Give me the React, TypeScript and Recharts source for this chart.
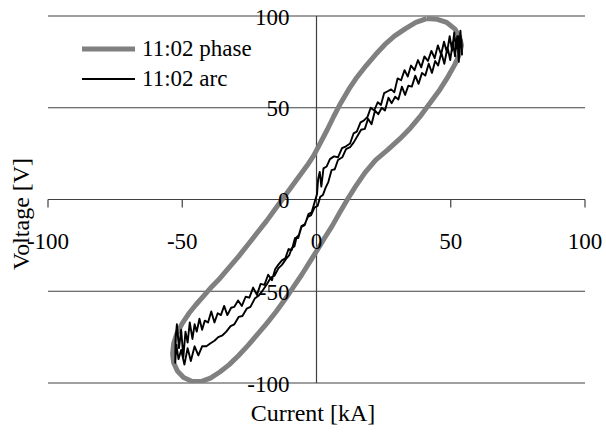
import {
  ScatterChart,
  Scatter,
  XAxis,
  YAxis,
  CartesianGrid,
  ReferenceLine,
  Legend,
  Label,
} from "recharts"

const FONT = "Liberation Serif, Times New Roman, DejaVu Serif, serif"
const GRID = "#404040"

const currentTicks = [-100, -50, 0, 50, 100]
const voltageTicks = [-100, -50, 0, 50, 100]

// 11:02 phase: [current kA, voltage V], one closed cycle
const phaseLoop: [number, number][] = [
  [41, 98.6], [45, 98.2], [48.5, 96.5], [51.5, 93], [53.3, 88.5], [54, 84],
  [53.2, 79], [51.5, 73.5], [49, 67], [46, 60], [42.5, 53], [39, 46],
  [35, 39], [31, 33], [26.5, 27], [22, 21.5], [18, 14.5], [14.5, 7],
  [11.5, 0], [8.5, -7.5], [5.8, -14.5], [3, -21], [0.3, -27.5], [-2.5, -34],
  [-5.5, -41], [-8.5, -47.5], [-11.5, -54], [-15, -61], [-18.5, -67.5], [-22, -73.5],
  [-25.5, -79.5], [-29, -85], [-32.5, -90], [-36, -94], [-39.5, -97.3], [-43, -99.2],
  [-46.5, -99], [-49.5, -97], [-51.8, -93.5], [-53.2, -89], [-53.6, -84], [-53.2, -78.5],
  [-52, -73], [-50, -67.5], [-47.5, -62], [-45, -57.5], [-42, -52.5], [-39, -47.5],
  [-36, -43], [-32.5, -37], [-29, -31], [-25.5, -24.5], [-22, -18], [-18.5, -11.5],
  [-15.5, -5.5], [-12.5, 0.5], [-9.5, 6.5], [-6.5, 12.5], [-3.5, 18.5], [-1, 24],
  [1.5, 31], [4, 38], [6.5, 45.5], [9, 52.5], [12, 60], [15, 66.5],
  [18.5, 73], [22, 79], [25.5, 84.5], [29, 89], [33, 93], [37, 96.5], [41, 98.6],
]

// 11:02 arc: [current kA, voltage V], rising branch then falling branch
const arcLoop: [number, number][] = [
  [-52.5, -76], [-52, -68], [-51.2, -81], [-50.4, -71], [-49.6, -86], [-48.8, -72],
  [-48, -78], [-47.2, -67], [-46.2, -76], [-45.4, -68], [-44.6, -72], [-43.6, -65],
  [-42.6, -71], [-41.6, -66], [-40.4, -67], [-39.2, -61], [-38, -67], [-36.8, -62],
  [-35.6, -63], [-34.4, -58], [-33.2, -63], [-31.8, -59], [-30.6, -58.5], [-29.2, -55],
  [-27.8, -58], [-26.4, -53], [-25, -53.5], [-23.6, -48], [-22.2, -52], [-20.8, -46],
  [-19.4, -46.5], [-18, -41], [-16.6, -44], [-15.4, -38], [-14.2, -35.5], [-12.8, -33],
  [-11.6, -32], [-10.4, -27], [-9.2, -27.5], [-8, -21], [-6.8, -21], [-5.6, -15],
  [-4.4, -14], [-3, -8], [-1.8, -7], [-0.6, -1], [0.2, 3], [0.6, 11],
  [1.2, 15], [1.8, 7], [2.6, 17], [3.8, 18], [5, 22], [6.5, 23.5],
  [8, 23], [9.5, 28], [11, 29], [12.5, 30.5], [13.8, 36], [15, 37],
  [16.4, 42], [17.6, 43], [19, 45], [20.2, 50], [21.5, 48.5], [22.8, 53],
  [24, 51.5], [25.2, 58], [26.5, 59], [27.8, 60], [29, 58.5], [30.2, 66],
  [31.5, 65], [32.8, 70.5], [34, 67], [35.2, 73], [36.5, 70.5], [37.8, 76],
  [39, 72], [40.2, 78], [41.5, 75.5], [42.8, 81], [44, 77], [45.2, 84],
  [46.4, 79], [47.5, 86], [48.6, 80], [49.6, 89], [50.5, 81], [51.3, 91],
  [52, 82], [52.8, 89], [53.4, 83], [54, 87],
  [54.2, 79], [53.6, 92], [53, 75], [52.4, 89], [51.6, 78], [50.8, 86],
  [49.8, 76], [48.8, 83], [47.6, 74], [46.5, 80], [45.3, 73], [44.2, 75.5],
  [43, 69], [41.8, 74], [40.5, 67.5], [39.3, 69], [38, 63], [36.8, 67.5],
  [35.5, 61.5], [34.2, 62], [33, 57], [31.8, 61.5], [30.5, 54.5], [29.3, 56],
  [28, 52.5], [26.8, 55.5], [25.5, 48.5], [24.3, 50], [23, 46.5], [21.8, 48.5],
  [20.5, 41], [19.2, 44], [18, 38.5], [16.6, 38], [15.2, 34.5], [13.8, 31],
  [12.5, 28.5], [11, 27.5], [9.6, 23], [8, 21.5], [6.8, 16.5], [5.6, 16],
  [4.4, 9.5], [3.4, 6.5], [2.4, 2.5], [1.4, 1.5], [0.4, -3.5], [-0.8, -4.5],
  [-2, -8.5], [-3.2, -9.5], [-4.4, -13.5], [-5.6, -14.5], [-6.6, -19.5], [-7.4, -20.5],
  [-8.2, -25.5], [-9.2, -26.5], [-10.2, -30.5], [-11.4, -32.5], [-12.8, -35.5], [-14.2, -37.5],
  [-15.6, -41.5], [-17, -42.5], [-18.6, -46.5], [-20, -49.5], [-21.6, -52.5], [-23, -54],
  [-24.6, -58.5], [-26, -59.5], [-27.6, -63.5], [-29, -64], [-30.6, -68], [-32, -69],
  [-33.6, -72], [-35, -74], [-36.6, -75], [-38, -77], [-39.6, -78.5], [-41, -80],
  [-42.6, -80], [-44, -85], [-45.4, -80], [-46.8, -88], [-48, -81], [-49.2, -90],
  [-50.4, -82], [-51.4, -87], [-52.2, -79], [-52.6, -89], [-52.5, -76],
]

const series = [
  { name: "11:02 phase", points: phaseLoop, color: "#808080", width: 5 },
  { name: "11:02 arc", points: arcLoop, color: "#000000", width: 1.9 },
]

const WIDTH = 606
const HEIGHT = 432
const X_AXIS_H = 30
const Y_AXIS_W = 30
const MARGIN = { top: 16, right: 21, bottom: 49 - X_AXIS_H, left: 48 - Y_AXIS_W }
// axes cross at the origin, in the middle of the plot
const PLOT_LEFT = MARGIN.left + Y_AXIS_W
const PLOT_BOTTOM = HEIGHT - MARGIN.bottom - X_AXIS_H
const ZERO_X = PLOT_LEFT + (WIDTH - PLOT_LEFT - MARGIN.right) / 2
const ZERO_Y = MARGIN.top + (PLOT_BOTTOM - MARGIN.top) / 2

const textStyle = { fontFamily: FONT, fill: "#000" }

function CurrentTick({ x, payload }: any) {
  return (
    <g>
      {payload.value !== 0 && (
        <line x1={x} x2={x} y1={ZERO_Y} y2={ZERO_Y + 8} stroke={GRID} strokeWidth={1.2} />
      )}
      <text x={x} y={ZERO_Y + 49} textAnchor="middle" fontSize={23} style={textStyle}>
        {payload.value}
      </text>
    </g>
  )
}

function VoltageTick({ y, payload }: any) {
  return (
    <text x={ZERO_X - 27} y={y + 8.5} textAnchor="end" fontSize={23} style={textStyle}>
      {payload.value}
    </text>
  )
}

function VoltageTitle() {
  return (
    <text
      transform="translate(21 214) rotate(-90)"
      textAnchor="middle"
      dominantBaseline="central"
      fontSize={24}
      style={textStyle}
    >
      Voltage [V]
    </text>
  )
}

function CurrentTitle() {
  return (
    <text x={313} y={421} textAnchor="middle" fontSize={24} style={textStyle}>
      Current [kA]
    </text>
  )
}

function renderLegend() {
  return (
    <div style={{ fontFamily: FONT, fontSize: 23, color: "#000" }}>
      {series.map((s) => (
        <div key={s.name} style={{ display: "flex", alignItems: "center", height: 30, whiteSpace: "nowrap" }}>
          <svg width={53} height={10}>
            <line x1={0} x2={53} y1={5} y2={5} stroke={s.color} strokeWidth={s.width} strokeLinecap="round" />
          </svg>
          <span style={{ marginLeft: 7 }}>{s.name}</span>
        </div>
      ))}
    </div>
  )
}

const noDot = () => <g />

export default function App() {
  return (
    <div style={{ position: "absolute", left: 0, top: 0, background: "#fff" }}>
      <ScatterChart width={WIDTH} height={HEIGHT} margin={MARGIN}>
        <CartesianGrid vertical={false} stroke={GRID} strokeWidth={1.2} />
        <XAxis
          type="number"
          dataKey="x"
          domain={[-100, 100]}
          ticks={currentTicks}
          interval={0}
          height={X_AXIS_H}
          axisLine={false}
          tickLine={false}
          tick={<CurrentTick />}
          allowDataOverflow
        >
          <Label content={<CurrentTitle />} />
        </XAxis>
        <YAxis
          type="number"
          dataKey="y"
          domain={[-100, 100]}
          ticks={voltageTicks}
          interval={0}
          width={Y_AXIS_W}
          axisLine={false}
          tickLine={false}
          tick={<VoltageTick />}
          allowDataOverflow
        >
          <Label content={<VoltageTitle />} />
        </YAxis>
        <ReferenceLine x={0} stroke={GRID} strokeWidth={1.2} />
        {series.map((s) => (
          <Scatter
            key={s.name}
            name={s.name}
            data={s.points.map(([x, y]) => ({ x, y }))}
            fill={s.color}
            line={{ stroke: s.color, strokeWidth: s.width, strokeLinejoin: "round" }}
            lineType="joint"
            shape={noDot}
            isAnimationActive={false}
          />
        ))}
        <Legend
          layout="horizontal"
          verticalAlign="middle"
          align="center"
          content={renderLegend}
          wrapperStyle={{ left: 82, top: 34, width: "auto" }}
        />
      </ScatterChart>
    </div>
  )
}
